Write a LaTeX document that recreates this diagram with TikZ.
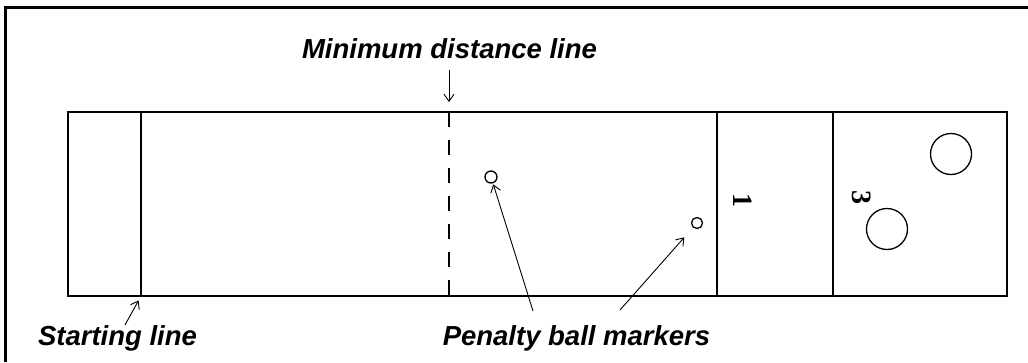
\documentclass[tikz,border=0pt]{standalone}
\usepackage{fontspec}
\setmainfont{Liberation Sans}
\newfontfamily\numfont{Liberation Serif}
\usetikzlibrary{arrows.meta}

\begin{document}
\begin{tikzpicture}[x=1pt,y=-1pt,line width=1.5pt,
  lbl/.style={font=\fontsize{27.5}{33}\selectfont\bfseries\itshape,
              inner sep=0pt,anchor=base},
  zonenum/.style={font=\numfont\fontsize{28}{30}\selectfont\bfseries,
                  inner sep=0pt,rotate=-90},
  ball/.style={draw,circle,inner sep=0pt,line width=1.3pt},
  ptr/.style={-{Straight Barb[length=7pt,width=10pt]},line width=0.9pt}]
  \useasboundingbox (0,0) rectangle (1028,362);
  % Frame
  \draw[line width=3pt] (5,362) -- (5,7) -- (1028,7);
  % Court
  \draw (68,112) rectangle (1007,296);
  \draw (141,112) -- (141,296) coordinate (slfoot);
  \draw[dash pattern=on 15pt off 13pt] (449,112) coordinate (mdtop) -- (449,296);
  \draw (717,112) -- (717,296);
  \draw (833,112) -- (833,296);
  % Zone numbers
  \node[zonenum] (z1) at (743,200) {1};
  \node[zonenum] (z3) at (862,197) {3};
  % Balls
  \node[ball,minimum size=12pt] (pb1) at (491,177) {};
  \node[ball,minimum size=11pt] (pb2) at (697,223) {};
  \node[ball,minimum size=41pt] (b1) at (951,154) {};
  \node[ball,minimum size=41pt] (b2) at (887,229) {};
  % Labels
  \node[lbl] (mdl) at (449.5,58) {Minimum distance line};
  \node[lbl] (stl) at (117.5,345) {Starting line};
  \node[lbl] (pbm) at (576.5,345) {Penalty ball markers};
  % Pointers
  \coordinate (mdtail) at (449,70);
  \coordinate (sttail) at (125,325);
  \coordinate (pbtail1) at (533,311);
  \coordinate (pbtail2) at (620,310);
  \draw[ptr,shorten >=10pt] (mdtail) -- (mdtop);
  \draw[ptr,shorten >=5pt] (sttail) -- (slfoot);
  \draw[ptr,shorten >=1pt] (pbtail1) -- (pb1);
  \draw[ptr,shorten >=13pt] (pbtail2) -- (pb2);
\end{tikzpicture}
\end{document}
